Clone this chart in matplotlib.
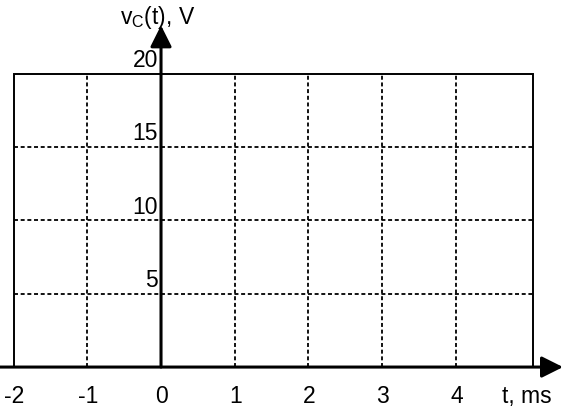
import matplotlib
matplotlib.use("Agg")
import matplotlib.pyplot as plt

plt.rcParams['font.family'] = ['Liberation Sans', 'DejaVu Sans']
plt.rcParams['mathtext.fontset'] = 'custom'
plt.rcParams['mathtext.rm'] = 'Liberation Sans'

x_ticks = [-2, -1, 0, 1, 2, 3, 4]
x_grid = [-1, 1, 2, 3, 4]
y_ticks = [5, 10, 15, 20]
y_grid = [5, 10, 15]
x_min, x_max = -2, 5.05
y_min, y_max = 0, 20
x_label = "t, ms"
y_label = r"v$_\mathregular{C}$(t), V"

fig = plt.figure(figsize=(5.63, 4.09), dpi=100)
ax = fig.add_axes([0, 0, 1, 1])
ax.set_xlim(-2.185, 5.455)
ax.set_ylim(-2.86, 25.03)
ax.axis('off')

fs = 16.5

# border box
ax.plot([x_min, x_min, x_max, x_max], [y_min, y_max, y_max, y_min], color='black', lw=1.4,
        solid_joinstyle='miter')

# dashed grid
for gx in x_grid:
    ax.plot([gx, gx], [y_min, y_max], color='black', lw=1.3, linestyle=(0, (2.2, 1.5)))
for gy in y_grid:
    ax.plot([x_min, x_max], [gy, gy], color='black', lw=1.3, linestyle=(0, (2.2, 1.5)))

# axes with arrows
ax.annotate('', xy=(5.455, 0), xytext=(-2.185, 0),
            arrowprops=dict(arrowstyle='-|>,head_length=1.3,head_width=0.65', color='black', lw=2.2,
                            shrinkA=0, shrinkB=0))
ax.annotate('', xy=(0, 23.3), xytext=(0, 0),
            arrowprops=dict(arrowstyle='-|>,head_length=1.3,head_width=0.65', color='black', lw=2.2,
                            shrinkA=0, shrinkB=0))

# tick labels
for t in x_ticks:
    ax.text(t + 0.01, -2.0, str(t), ha='center', va='center', fontsize=fs)
for t in y_ticks:
    ax.text(-0.04, t + 0.45, str(t), ha='right', va='baseline', fontsize=fs)

ax.text(4.97, -2.0, x_label, ha='center', va='center', fontsize=fs)
ax.text(-0.05, 23.85, y_label, ha='center', va='center', fontsize=fs)

fig.savefig('out.png', dpi=100)
